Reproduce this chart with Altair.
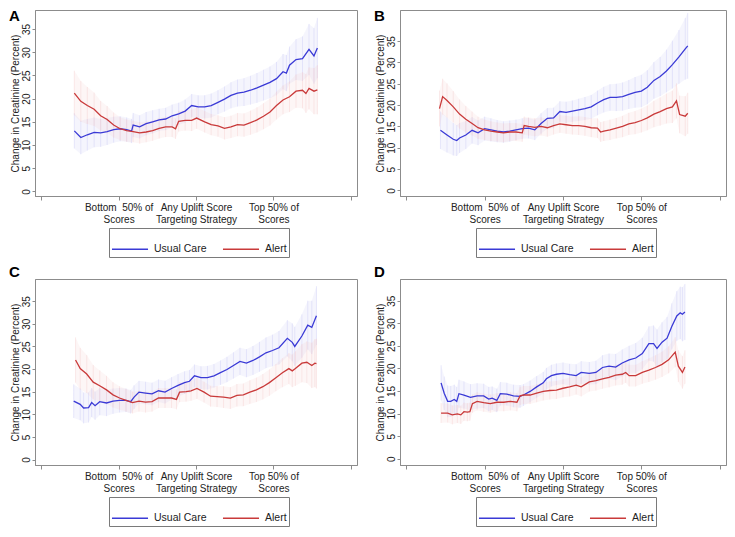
import json
import altair as alt
import pandas as pd

FONT = "Liberation Sans"
BLUE = "#3a3ad6"
RED = "#c93a3a"
BLUE_CI = "#c8c8f4"
RED_CI = "#f5cccc"
FRAME = "#8c8c8c"

SERIES = ["Usual Care", "Alert"]
XTICKS = [0, 25, 50, 75, 100]
XLABELS = ["", ["Bottom\u00a0 50% of", "Scores"], ["Any Uplift Score", "Targeting Strategy"], ["Top 50% of", "Scores"], ""]
YTICKS = [0, 5, 10, 15, 20, 25, 30, 35]
YTITLE = "Change in Creatinine (Percent)"
XDOM = [-2, 102]

# ---------------- Panel A ----------------
A_UC_X = [10.7, 12.8, 14.9, 17.1, 19.2, 21.3, 23.4, 25.5, 27.6, 29.2,
          29.7, 31.8, 33.9, 36.0, 38.1, 40.2, 42.3, 44.4, 46.5, 48.6,
          50.7, 52.8, 54.9, 57.1, 59.2, 61.3, 63.4, 65.5, 67.6, 69.7,
          71.8, 73.9, 76.0, 78.1, 79.2, 80.2, 82.3, 84.4, 86.5, 88.1,
          89.2]
A_UC_Y = [13.05, 11.6, 12.2, 12.7, 12.6, 12.9, 13.3, 13.5, 13.3, 13.0,
          14.3, 13.9, 14.6, 15.0, 15.4, 15.6, 16.3, 16.7, 17.3, 18.5,
          18.2, 18.2, 18.5, 19.2, 19.9, 20.7, 21.2, 21.4, 21.8, 22.3,
          22.9, 23.5, 24.3, 25.8, 25.5, 27.2, 28.4, 28.6, 30.6, 29.2,
          30.9]
A_UC_HW = [3.8, 3.6, 3.4, 3.2, 3.0, 2.9, 2.8, 2.7, 2.6, 2.6,
           2.6, 2.5, 2.5, 2.5, 2.4, 2.4, 2.4, 2.4, 2.5, 2.5,
           2.5, 2.5, 2.6, 2.6, 2.7, 2.8, 2.9, 3.0, 3.1, 3.2,
           3.3, 3.4, 3.6, 3.8, 3.9, 4.0, 4.4, 4.8, 5.5, 6.0,
           6.5]
A_AL_X = [10.7, 12.8, 14.9, 17.1, 19.2, 21.3, 23.4, 25.5, 27.6, 29.7,
          31.8, 33.9, 36.0, 38.1, 40.2, 42.3, 43.4, 44.4, 46.5, 48.6,
          50.2, 52.8, 54.9, 57.1, 59.2, 61.3, 63.4, 65.5, 67.6, 69.7,
          71.8, 73.9, 76.0, 78.1, 80.2, 82.3, 84.4, 85.5, 86.5, 88.1,
          89.2]
A_AL_Y = [21.2, 19.4, 18.5, 17.7, 16.3, 15.5, 14.3, 13.5, 13.1, 12.9,
          12.6, 12.8, 13.1, 13.6, 13.9, 13.9, 13.5, 15.1, 15.3, 15.3,
          15.8, 15.0, 14.4, 14.1, 13.6, 13.9, 14.4, 14.3, 14.8, 15.4,
          16.2, 17.1, 18.5, 19.7, 20.4, 21.6, 21.8, 21.1, 22.2, 21.6,
          21.9]
A_AL_HW = [4.8, 4.4, 4.0, 3.6, 3.2, 2.9, 2.7, 2.5, 2.4, 2.3,
           2.3, 2.2, 2.2, 2.2, 2.2, 2.2, 2.2, 2.2, 2.2, 2.3,
           2.3, 2.3, 2.3, 2.3, 2.4, 2.4, 2.5, 2.5, 2.6, 2.7,
           2.8, 2.9, 3.0, 3.1, 3.3, 3.6, 3.9, 4.2, 4.5, 5.0,
           5.3]
A_YDOM = [-1.0, 39.1]

# ---------------- Panel B ----------------
B_UC_X = [10.9, 13.0, 15.0, 16.1, 17.0, 19.0, 21.0, 22.9, 25.0, 27.0,
          29.0, 31.0, 33.0, 35.0, 37.0, 39.0, 41.0, 43.0, 45.0, 47.0,
          49.0, 51.0, 53.0, 55.0, 57.0, 59.0, 61.0, 63.0, 65.0, 67.0,
          69.0, 71.0, 73.0, 75.0, 76.9, 79.0, 81.0, 83.0, 84.9, 87.0,
          89.0, 89.8]
B_UC_Y = [14.1, 13.0, 12.0, 11.7, 12.3, 13.0, 14.1, 13.5, 14.5, 14.2,
          13.9, 13.7, 13.9, 14.2, 14.5, 14.6, 14.2, 15.7, 16.9, 17.0,
          18.5, 18.3, 18.6, 18.9, 19.2, 19.6, 20.5, 21.3, 21.8, 21.8,
          22.0, 22.5, 23.0, 23.3, 24.2, 25.8, 26.7, 28.0, 29.5, 31.3,
          33.2, 33.9]
B_UC_HW = [4.4, 4.1, 3.8, 3.6, 3.5, 3.3, 3.1, 2.9, 2.8, 2.7,
           2.6, 2.5, 2.5, 2.4, 2.4, 2.4, 2.4, 2.4, 2.4, 2.4,
           2.4, 2.5, 2.5, 2.6, 2.7, 2.8, 2.9, 3.0, 3.1, 3.2,
           3.3, 3.4, 3.6, 3.8, 4.0, 4.3, 4.6, 5.0, 5.6, 6.3,
           7.2, 7.7]
B_AL_X = [10.6, 11.6, 13.0, 15.0, 17.0, 19.0, 21.0, 22.9, 25.0, 27.0,
          29.0, 31.0, 33.0, 35.0, 37.0, 37.6, 39.0, 41.0, 43.0, 45.0,
          47.0, 49.0, 51.0, 53.0, 55.0, 57.0, 59.0, 61.0, 62.0, 63.0,
          65.0, 67.0, 69.0, 71.0, 73.0, 75.0, 76.9, 79.0, 81.0, 83.0,
          84.9, 86.2, 87.2, 89.0, 89.8]
B_AL_Y = [19.2, 22.0, 21.1, 19.6, 17.9, 16.7, 15.7, 14.7, 14.2, 13.9,
          13.7, 13.5, 13.7, 13.7, 13.5, 15.2, 15.0, 14.8, 15.0, 14.7,
          15.2, 15.6, 15.4, 15.2, 15.2, 15.0, 14.7, 14.6, 13.7, 13.9,
          14.2, 14.6, 15.0, 15.6, 15.9, 16.4, 17.0, 17.9, 18.5, 19.2,
          19.6, 21.0, 17.8, 17.4, 18.1]
B_AL_HW = [4.2, 4.2, 4.0, 3.7, 3.4, 3.1, 2.8, 2.6, 2.4, 2.3,
           2.2, 2.2, 2.1, 2.1, 2.1, 2.1, 2.1, 2.1, 2.1, 2.1,
           2.1, 2.1, 2.1, 2.1, 2.2, 2.2, 2.2, 2.3, 2.3, 2.3,
           2.4, 2.4, 2.5, 2.6, 2.7, 2.8, 2.9, 3.1, 3.3, 3.5,
           3.8, 4.1, 4.4, 4.7, 4.8]
B_YDOM = [-1.3, 42.3]

# ---------------- Panel C ----------------
C_UC_X = [10.5, 12.6, 13.7, 15.3, 16.3, 17.4, 18.9, 21.1, 23.2, 25.3,
          27.4, 28.9, 30.0, 31.6, 33.7, 35.8, 37.9, 40.0, 42.1, 44.2,
          46.3, 47.9, 49.5, 51.6, 53.7, 55.8, 57.9, 60.0, 62.1, 64.2,
          66.3, 68.4, 70.5, 72.6, 74.7, 76.8, 79.5, 81.1, 81.9, 84.2,
          86.1, 87.4, 88.9]
C_UC_Y = [12.9, 12.2, 11.4, 11.5, 12.6, 11.9, 12.8, 12.5, 12.9, 13.1,
          13.1, 12.8, 13.8, 14.9, 14.7, 14.5, 15.2, 14.9, 15.7, 16.4,
          17.0, 17.3, 18.5, 18.1, 18.1, 18.5, 19.2, 19.9, 20.8, 21.7,
          21.3, 21.9, 22.7, 23.6, 24.1, 24.7, 26.8, 25.9, 25.0, 27.3,
          29.7, 29.2, 31.8]
C_UC_HW = [3.7, 3.5, 3.4, 3.3, 3.2, 3.1, 3.0, 2.9, 2.8, 2.7,
           2.6, 2.6, 2.6, 2.5, 2.5, 2.5, 2.5, 2.5, 2.5, 2.5,
           2.5, 2.5, 2.5, 2.5, 2.6, 2.6, 2.7, 2.8, 2.9, 3.0,
           3.1, 3.2, 3.3, 3.4, 3.5, 3.7, 4.0, 4.2, 4.3, 4.8,
           5.4, 5.9, 6.5]
C_AL_X = [11.1, 12.6, 14.7, 16.8, 18.9, 21.1, 23.2, 25.3, 27.4, 29.5,
          31.6, 33.7, 35.8, 37.9, 40.0, 42.1, 43.7, 44.7, 46.8, 48.4,
          50.3, 52.6, 54.7, 56.8, 58.9, 61.1, 63.2, 65.3, 67.4, 69.5,
          71.6, 73.7, 75.8, 77.9, 80.0, 81.1, 82.1, 84.2, 85.8, 87.4,
          88.4, 88.9]
C_AL_Y = [22.0, 20.1, 18.9, 17.1, 16.3, 15.4, 14.3, 13.6, 13.1, 12.6,
          12.9, 12.7, 12.8, 13.6, 13.6, 13.6, 13.3, 14.9, 15.0, 15.2,
          15.7, 14.9, 14.0, 13.9, 13.8, 13.6, 14.2, 14.3, 14.9, 15.4,
          16.1, 17.0, 18.1, 19.2, 20.1, 19.6, 20.1, 21.3, 21.5, 20.8,
          21.3, 21.2]
C_AL_HW = [5.0, 4.6, 4.2, 3.8, 3.4, 3.1, 2.8, 2.6, 2.5, 2.4,
           2.3, 2.3, 2.2, 2.2, 2.2, 2.2, 2.2, 2.2, 2.2, 2.2,
           2.3, 2.3, 2.3, 2.3, 2.4, 2.4, 2.5, 2.5, 2.6, 2.7,
           2.8, 2.9, 3.0, 3.2, 3.4, 3.6, 3.8, 4.2, 4.6, 5.0,
           5.3, 5.5]
C_YDOM = [-1.2, 39.9]

# ---------------- Panel D ----------------
D_UC_X = [11.1, 12.1, 13.2, 14.2, 15.3, 16.1, 16.8, 18.4, 20.5, 22.6,
          24.7, 26.3, 27.4, 28.9, 30.0, 32.1, 34.2, 36.3, 37.4, 39.5,
          41.6, 43.7, 44.7, 46.3, 47.9, 50.0, 52.1, 54.2, 55.8, 58.4,
          60.5, 62.6, 64.7, 66.8, 68.9, 71.1, 73.2, 75.3, 77.4, 78.9,
          80.0, 81.6, 83.2, 84.7, 86.3, 87.4, 88.1, 88.9]
D_UC_Y = [16.8, 14.5, 12.7, 12.7, 13.1, 12.7, 14.4, 14.1, 13.6, 13.9,
          13.9, 13.2, 13.4, 12.9, 14.4, 14.3, 13.9, 13.8, 14.1, 14.9,
          15.9, 16.8, 17.7, 18.4, 18.7, 18.9, 18.6, 18.4, 19.1, 18.9,
          19.1, 20.2, 20.5, 20.3, 21.2, 21.9, 22.3, 23.3, 25.5, 25.5,
          24.4, 25.8, 26.7, 29.3, 31.6, 32.3, 32.0, 32.5]
D_UC_HW = [3.9, 3.7, 3.5, 3.4, 3.3, 3.2, 3.1, 3.0, 2.9, 2.8,
           2.7, 2.7, 2.6, 2.6, 2.6, 2.5, 2.5, 2.5, 2.4, 2.4,
           2.4, 2.4, 2.4, 2.4, 2.4, 2.4, 2.4, 2.5, 2.5, 2.5,
           2.6, 2.7, 2.8, 2.9, 3.0, 3.1, 3.3, 3.5, 3.8, 4.0,
           4.2, 4.4, 4.7, 5.1, 5.5, 5.8, 6.0, 6.2]
D_AL_X = [11.1, 13.2, 14.7, 16.3, 17.4, 18.4, 19.5, 20.3, 21.1, 22.6,
          24.7, 26.8, 28.9, 31.1, 33.2, 35.3, 36.3, 37.4, 39.5, 41.6,
          43.7, 45.8, 47.9, 50.0, 52.1, 54.2, 55.8, 58.4, 60.5, 62.6,
          64.7, 66.8, 68.9, 70.0, 71.1, 73.2, 75.3, 77.4, 79.5, 81.6,
          83.7, 85.8, 86.8, 88.1, 88.9]
D_AL_Y = [10.1, 10.1, 9.7, 9.9, 9.7, 10.4, 10.3, 10.4, 12.2, 12.7,
          12.4, 12.2, 12.5, 12.5, 12.7, 12.5, 13.9, 14.1, 14.1, 14.5,
          14.9, 15.1, 15.2, 15.6, 15.9, 16.3, 15.9, 17.0, 17.3, 17.7,
          18.0, 18.5, 18.7, 19.1, 18.4, 18.4, 19.1, 19.6, 20.2, 20.9,
          21.9, 23.6, 20.5, 19.1, 20.3]
D_AL_HW = [2.2, 2.1, 2.1, 2.0, 2.0, 2.0, 2.0, 2.0, 2.0, 2.0,
           2.0, 2.0, 2.0, 2.0, 2.0, 2.0, 2.0, 2.0, 2.0, 2.0,
           2.0, 2.0, 2.0, 2.0, 2.1, 2.1, 2.1, 2.1, 2.2, 2.2,
           2.2, 2.3, 2.3, 2.3, 2.4, 2.4, 2.5, 2.6, 2.7, 2.8,
           3.0, 3.3, 3.5, 3.6, 3.7]
D_YDOM = [-1.4, 39.8]

W_LEFT = 322
W_RIGHT = 326
H = 186

label_expr = " : ".join(
    f"datum.value == {v} ? {json.dumps(l)}" for v, l in zip(XTICKS, XLABELS)
) + " : ''"


def panel(letter, uc, al, ydom, letter_dy, width):
    rows = []
    for name, (xs, ys, hws) in zip(SERIES, [uc, al]):
        for x, y, h in zip(xs, ys, hws, strict=True):
            rows.append(dict(series=name, x=x, y=y, lo=y - h, hi=y + h))
    df = pd.DataFrame(rows)

    xaxis = alt.Axis(values=XTICKS, labelExpr=label_expr, title=None, grid=False,
                     tickSize=4, labelPadding=2, labelFontSize=10, labelLineHeight=12,
                     labelColor="#222222", labelOverlap=False, labelFont=FONT)
    xenc = alt.X("x:Q", scale=alt.Scale(domain=XDOM, nice=False, zero=False), axis=xaxis)
    yscale = alt.Scale(domain=ydom, nice=False, zero=False)
    yaxis = alt.Axis(values=YTICKS, title=YTITLE, grid=False, tickSize=3,
                     labelAngle=270, labelAlign="center", labelBaseline="bottom",
                     labelPadding=1, labelFontSize=10, labelColor="#222222",
                     titleFontSize=10, titleFontWeight="normal", titleColor="#222222",
                     titlePadding=1, labelFont=FONT, titleFont=FONT)

    base = alt.Chart(df)
    layers = []
    for name, cci in zip(SERIES, [BLUE_CI, RED_CI]):
        sub = base.transform_filter(alt.datum.series == name)
        layers.append(sub.mark_area(color=cci, opacity=0.18, clip=True).encode(
            x=xenc, y=alt.Y("lo:Q", scale=yscale, axis=yaxis), y2="hi:Q"))
        layers.append(sub.mark_rule(color=cci, strokeWidth=0.8, opacity=0.5, clip=True).encode(
            x=xenc, y=alt.Y("lo:Q", scale=yscale, axis=yaxis), y2="hi:Q"))

    legend = alt.Legend(orient="none", legendX=(width - 174) / 2, legendY=H + 32,
                        direction="horizontal",
                        title=None, symbolType="stroke", symbolSize=1300, symbolStrokeWidth=1.5,
                        labelFontSize=10.5, labelFont=FONT, labelColor="#222222",
                        strokeColor="#7a7a7a", padding=2, columnPadding=12, labelOffset=5)
    lines = base.mark_line(strokeWidth=1.3, clip=True).encode(
        x=xenc,
        y=alt.Y("y:Q", scale=yscale, axis=yaxis),
        color=alt.Color("series:N", sort=SERIES,
                        scale=alt.Scale(domain=SERIES, range=[BLUE, RED]), legend=legend),
    )
    letter_layer = alt.Chart(pd.DataFrame({"t": [letter]})).mark_text(
        align="left", baseline="top", fontSize=15, fontWeight="bold", font=FONT, color="black"
    ).encode(text="t:N", x=alt.value(-26), y=alt.value(letter_dy))
    return alt.layer(*layers, lines, letter_layer).properties(width=width, height=H)


pA = panel("A", (A_UC_X, A_UC_Y, A_UC_HW), (A_AL_X, A_AL_Y, A_AL_HW), A_YDOM, -1, W_LEFT)
pB = panel("B", (B_UC_X, B_UC_Y, B_UC_HW), (B_AL_X, B_AL_Y, B_AL_HW), B_YDOM, -1, W_RIGHT)
pC = panel("C", (C_UC_X, C_UC_Y, C_UC_HW), (C_AL_X, C_AL_Y, C_AL_HW), C_YDOM, -14, W_LEFT)
pD = panel("D", (D_UC_X, D_UC_Y, D_UC_HW), (D_AL_X, D_AL_Y, D_AL_HW), D_YDOM, -14, W_RIGHT)

row1 = alt.hconcat(pA, pB, spacing=15).resolve_scale(color="independent").resolve_legend(color="independent")
row2 = alt.hconcat(pC, pD, spacing=15).resolve_scale(color="independent").resolve_legend(color="independent")

chart = (
    alt.vconcat(row1, row2, spacing=6)
    .resolve_scale(color="independent")
    .resolve_legend(color="independent")
    .properties(padding=0, background="white")
    .configure_view(stroke=FRAME, strokeWidth=1)
    .configure_axis(domainColor=FRAME, tickColor=FRAME, grid=False)
)

chart.save("out.html", embed_options={"renderer": "svg", "actions": False})
